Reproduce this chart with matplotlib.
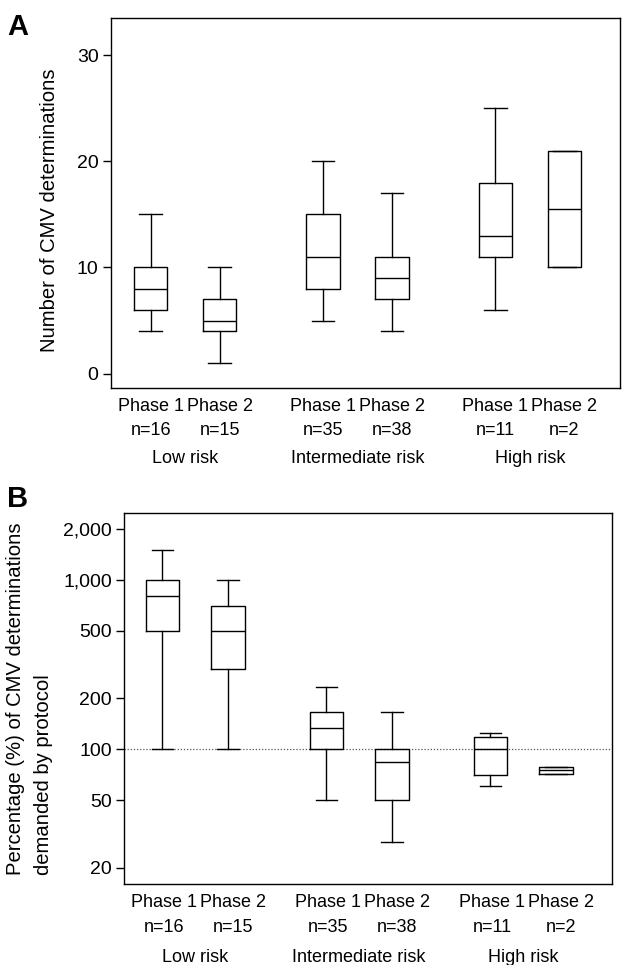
import matplotlib
matplotlib.use("Agg")
import matplotlib.pyplot as plt
from matplotlib.ticker import FixedLocator, NullLocator

plt.rcParams['font.family'] = ['Liberation Sans', 'DejaVu Sans']

# ---- data ----
phases = ["Phase 1", "Phase 2", "Phase 1", "Phase 2", "Phase 1", "Phase 2"]
ns = ["n=16", "n=15", "n=35", "n=38", "n=11", "n=2"]
groups = ["Low risk", "Intermediate risk", "High risk"]

# Panel A: number of CMV determinations
a_whislo = [4, 1, 5, 4, 6, 10]
a_q1 = [6, 4, 8, 7, 11, 10]
a_med = [8, 5, 11, 9, 13, 15.5]
a_q3 = [10, 7, 15, 11, 18, 21]
a_whishi = [15, 10, 20, 17, 25, 21]

# Panel B: percentage of determinations demanded by protocol
b_whislo = [100, 100, 50, 28.5, 60.5, 71]
b_q1 = [500, 300, 100, 50, 70.5, 71]
b_med = [800, 500, 133, 84, 100, 75]
b_q3 = [1000, 700, 165, 100, 119, 79]
b_whishi = [1500, 1000, 232, 165, 124, 79]

a_ticks = [0, 10, 20, 30]
b_ticks = [20, 50, 100, 200, 500, 1000, 2000]
b_ticklabels = ["20", "50", "100", "200", "500", "1,000", "2,000"]

positions = [1, 2, 3.5, 4.5, 6, 7]

W, H = 622, 965
fig = plt.figure(figsize=(W / 100, H / 100), dpi=100)
FS = 13
TFS = 14
LFS = 14.6


def make_stats(lo, q1, med, q3, hi):
    return [dict(whislo=l, q1=a, med=m, q3=b, whishi=h, fliers=[])
            for l, a, m, b, h in zip(lo, q1, med, q3, hi)]


def draw_panel(ax, stats, width, bottoms_px, xshift_px=(0, 0)):
    lp = dict(color='black', linewidth=1.0)
    ax.bxp(stats, positions=positions, widths=width, capwidths=0.33,
           showfliers=False, boxprops=lp, whiskerprops=lp, capprops=lp,
           medianprops=lp, manage_ticks=False)
    ax.set_xticks([])
    ph_off, n_off, g_off = bottoms_px
    for i, (p, ph, n) in enumerate(zip(positions, phases, ns)):
        dx = xshift_px[i % 2] * 0.72
        ax.annotate(ph, xy=(p, 0), xycoords=('data', 'axes fraction'),
                    xytext=(dx, -ph_off * 0.72), textcoords='offset points',
                    ha='center', va='baseline', fontsize=FS)
        ax.annotate(n, xy=(p, 0), xycoords=('data', 'axes fraction'),
                    xytext=(dx, -n_off * 0.72), textcoords='offset points',
                    ha='center', va='baseline', fontsize=FS)
    for i, g in enumerate(groups):
        gx = (positions[2 * i] + positions[2 * i + 1]) / 2
        ax.annotate(g, xy=(gx, 0), xycoords=('data', 'axes fraction'),
                    xytext=(0, -g_off * 0.72), textcoords='offset points',
                    ha='center', va='baseline', fontsize=FS)
    ax.tick_params(axis='y', direction='out', length=6, width=1,
                   labelsize=TFS, pad=3)
    for s in ax.spines.values():
        s.set_linewidth(1.0)


# Panel A
axA = fig.add_axes([111 / W, (H - 388) / H, 509 / W, 370 / H])
draw_panel(axA, make_stats(a_whislo, a_q1, a_med, a_q3, a_whishi), 0.48,
           (23, 47, 75))
axA.set_xlim(0.425, 7.807)
axA.set_ylim(-1.35, 33.5)
axA.set_yticks(a_ticks)

# Panel B
axB = fig.add_axes([124.3 / W, (H - 884.3) / H, 487.4 / W, 371 / H])
axB.set_yscale('log')
axB.axhline(100, color='#555555', linestyle=(0, (1, 1.5)), linewidth=0.9,
            zorder=0)
draw_panel(axB, make_stats(b_whislo, b_q1, b_med, b_q3, b_whishi), 0.51,
           (23, 48, 78), xshift_px=(2, 5))
axB.set_xlim(0.42, 7.85)
axB.set_ylim(15.95, 2477)
axB.yaxis.set_major_locator(FixedLocator(b_ticks))
axB.yaxis.set_minor_locator(NullLocator())
axB.set_yticklabels(b_ticklabels)

# Axis labels
fig.text(50 / W, 1 - 210 / H, "Number of CMV determinations", rotation=90,
         ha='center', va='center', fontsize=LFS)
fig.text(30 / W, 1 - 699 / H,
         "Percentage (%) of CMV determinations\ndemanded by protocol",
         rotation=90, ha='center', va='center', multialignment='left',
         linespacing=1.6, fontsize=LFS)

# Panel letters
fig.text(7 / W, 1 - 35 / H, "A", fontsize=21, fontweight='bold',
         ha='left', va='baseline')
fig.text(7 / W, 1 - 507 / H, "B", fontsize=21, fontweight='bold',
         ha='left', va='baseline')

fig.savefig("out.png", dpi=100)
